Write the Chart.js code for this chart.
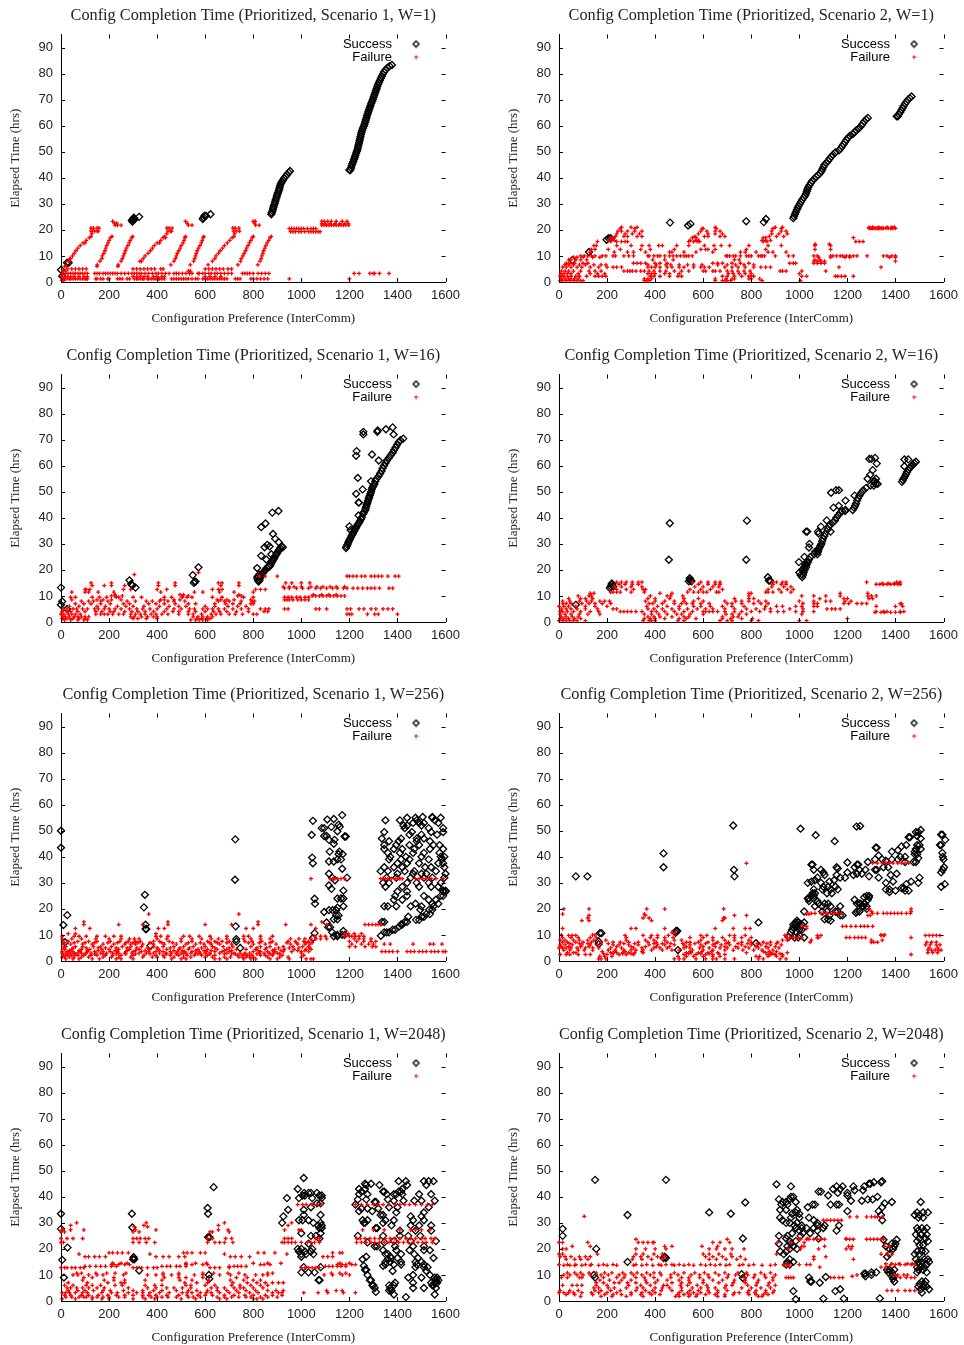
<!DOCTYPE html>
<html>
<head>
<meta charset="utf-8">
<title>Config Completion Time</title>
<script src="https://cdn.jsdelivr.net/npm/chart.js@4"></script>
<style>
html, body { margin: 0; padding: 0; background: #fff; overflow: hidden; }
canvas { position: absolute; }
</style>
</head>
<body>
<script>
// every row is [y, x, x, ...]
const okS1W1 = [[4.7,0],[2.2,5],[7.4,25,32],
[23.2,297],[23.7,295,302],[24.2,300,305],[24.7,303],[25,325],[24.2,590],[24.8,593],[25.4,597,603],[26,622],
[26,875],[26.6,877],[27.3,880],[28,882],[28.7,884],[29.4,886],[30.1,889],[30.8,891],[31.5,893],[32.2,896],[32.9,898],[33.6,900],[34.3,903],[35,906],[35.7,908],[36.4,910],[37.1,912],[37.8,915],[38.5,919],[39.2,924],[39.9,929],[40.6,935],[41.3,941],[42,947],[42.6,953],
[43,1204,1200],[43.8,1207],[44.6,1209],[45.4,1212],[46.2,1216],[47,1219],[47.8,1222],[48.6,1225],[49.4,1228],[50.2,1231],[51,1234],[51.8,1236],[52.6,1238],[53.4,1240],[54.2,1242],[55,1244],[55.8,1246],[56.6,1248],[57.4,1250],[58.2,1253],[59,1256],[59.8,1260],[60.6,1263],[61.4,1266],[62.2,1268],[63,1271],[63.8,1273],[64.6,1276],[65.4,1279],[66.2,1282],[67,1285],[67.8,1288],[68.6,1291],[69.4,1295],[70.2,1298],[71,1301],[71.8,1304],[72.6,1307],[73.4,1310],[74.2,1313],[75,1316],[75.8,1319],[76.6,1323],[77.4,1327],[78.2,1331],[79,1335],[79.8,1339],[80.6,1344],[81.4,1350],[82.2,1358],[82.9,1367],[83.3,1377]];
const failS1W1 = [[0.6,3,8,12],[1.2,5,15,25,35,40,50,60,70,80,90,100,105,110,145,150,165,175,195,200,235,245,255,275,285,305,315,320,330,340,345,360,365,375,385,395,405,410,420,430,460,470,480,490,500,510,520,530,545,560,570,590,600,610,620,630,640,650,660,670,680,690,725,735,745,790,800,815,830,845,860,950,1200],
[2.1,5,15,28,40,55,75,95,110,300,315,330,345,360,385,400,420,430,600,620,640,665],
[3.3,5,10,20,30,40,50,60,70,80,90,100,110,140,150,160,175,185,195,205,215,225,235,250,265,280,295,305,315,325,335,350,365,380,395,405,420,435,450,470,480,490,505,520,535,545,570,575,590,600,615,625,640,650,665,680,695,710,755,765,775,785,800,820,835,850,865,1220,1240,1285,1298,1305,1325,1365],
[4.2,8,20,530,538],[5,28,45,60,75,90,105,300,315,330,345,360,375,390,415,425,600,615,630,645,660,675,695,710],
[6.6,151,238,457,538,612,736,819],[6,15,22,150,237],[8,30,35,162,250,335,328,470,552,630,747,828],[9,37,40,170,255,342,476,556,640,750,833],
[10,48,172,260,350,480,560,645,757,836],[11,55,178,264,362,484,563,655,762,840],[12,62,183,268,372,490,567,662,768,843],[13,70,186,272,380,496,572,672,772,848],
[14,80,190,278,388,500,578,680,778,852],[15,92,100,196,284,400,410,508,584,692,784,858],[16,105,200,288,415,512,588,702,790,864],[17,118,206,295,425,435,516,592,712,796,870],[17.5,125,212,298,430,518,594,720,800,875],
[18.5,128,440,722],[19.5,125,130,140,150,155,445,455,460,718,730,743],[20.7,125,135,150,158,440,450,462,715,725,740],
[21.8,225,235,250,530,545,810,825],[22.6,222,232,525,805],[23.3,215,518,800,808],
[19.3,955,965,975,990,1000,1015,1030,1040,1050,1060,1070,1078],[20.5,950,960,970,980,990,1000,1010,1025,1040,1050,1060],
[21.8,1085,1095,1105,1115,1125,1135,1145,1155,1165,1175,1185,1197],[22.4,1085,1100,1120,1140,1160,1180,1195],[23.3,1085,1095,1110,1125,1145,1170,1190]];

const okS2W1 = [[8.4,55],[11.5,125],[16.2,198],[16.8,206,215],[22.8,462],[21.7,537],[22.3,547],[23.3,779],[23,852],[24.2,861],
[24.5,975],[25.2,978],[26,982],[26.8,985],[27.6,989],[28.4,993],[29.2,997],[30,1002],[30.8,1007],[31.6,1012],[32.4,1018],[33.2,1024],[34,1028],[34.8,1031],[35.6,1034],[36.4,1037],[37.2,1042],[38,1048],[38.8,1054],[39.6,1062],[40.4,1070],[41,1078],[41.7,1086],[42.5,1092],[43.3,1096],[44.1,1100],[44.9,1104],[45.7,1112],[46.5,1120],[47.3,1126],[48.1,1133],[48.9,1140],[49.7,1150],[50.5,1165],[51.3,1172],[52.1,1178],[52.9,1184],[53.7,1190],[54.5,1196],[55.3,1202],[56.1,1210],[56.8,1222],[57.5,1230],[58.3,1237],[59,1248],[60,1258],[60.8,1264],[61.6,1270],[62.4,1278],[63,1285],
[63.6,1405,1410],[64.4,1414],[65.2,1420],[66,1425],[66.8,1430],[67.6,1434],[68.4,1440],[69.2,1446],[70,1452],[70.6,1459],[71.2,1467]];
const failS2W1 = [[0.5,5,15,30,45,60,75,90,100,355,365,375,650,680,690,700,715,845,1005],[1.2,10,25,40,50,65,80,355,370,385,650,695,720,730,790,800,835],
[2.2,5,12,20,35,50,70,85,115,150,165,180,195,380,395,420,460,495,510,680,700,730,760,790,800,810,1010,1030,1150,1160,1175,1190,1225],[3.2,8,20,35,50,80,130,160,190,370,385,400,440,460,500,705,725,750,775,800,1000],
[4.2,10,25,40,60,90,125,150,175,270,285,295,305,320,340,355,375,395,420,445,480,510,540,600,610,640,650,670,700,720,745,770,795,920,930,945,1010,1110],[5.7,15,30,50,75,95,130,165,200,225,240,260,370,385,400,420,450,470,500,520,560,590,605,625,690,720,745,775,810,840,860,880,1165,1340],
[6.6,25,40,60,85,110,145,175,195,370,405,445,465,500,535,560,595,660,700,735,770,810],[7.2,30,45,65,100,120,310,325,340,360,400,420,450,640,660,680,720,755,790,960,975,985,1060,1075,1090,1105],
[8.5,40,50,70,90,115,390,440,475,730,750,1065,1085],[9.5,60,75,100,140,170,1080,1130,1190,1210],
[10,90,105,120,135,150,180,195,225,235,270,290,310,370,375,395,410,420,440,460,475,490,505,520,530,540,555,695,700,710,725,735,755,780,790,800,830,840,845,855,900,955,975,1060,1075,1130,1140,1155,1170,1180,1195,1210,1225,1240,1282,1350,1365,1385,1400],
[11.5,128,230,285,310,360,460,470,520,570,640,755,775,820,870,890,945],[12.5,135,150,205,255,340,380,480,590,610,620,650,780,860,1065,1130],[14,145,155,240,300,345,375,415,490,430,540,605,645,675,710,790,870,925,1065,1130],
[15.5,160,215,240,260,275,285,540,560,575,585,850,865,1235,1250,1265],[17,215,225,555,570,850,860,1225],[16,205,230,545,570,580,845,860,880],
[17.5,235,270,285,325,345,565,605,620,670,690,875,905,935],[18.5,240,275,305,335,580,620,650,680,885,915,950],[19.5,245,260,285,315,345,590,615,650,670,885,925,945],[20.5,255,315,595,600,655,890,925],[21,260,300,325,650,900,930],
[20.6,1290,1295,1300,1305,1310,1315,1320,1325,1330,1335,1340,1345,1350,1360,1370,1380,1385,1390,1400],[21,1290,1305,1330,1365,1385,1395],[14.5,1066,1125],[8,1060,1075,1090,1105,1400],[9.5,1375,1400]];

const okS1W16 = [[13.2,0],[7.9,5],[6.6,0],[5,25],[16,285],[14.6,292],[14,297],[13.2,310],[18,548],[21,572],[15.5,556,560],[15,553],
[15.5,822],[16,820,826],[16.8,816,828],[17.5,818,832],[18.2,824,836],[18.8,840],[19.5,846],[20,850],[20.7,816,856],[21.3,862,868],[22,872],[22.7,876],[23.4,880],[24,854,884],[24.7,888],[25.4,833,892],[26,875,896],[26.6,900],[27.2,904],[27.8,908],[28.4,912],[29,868,918],[28.7,847,923],[29.6,858],[30.6,906],[32,891],[33.8,882],[36.4,833],[37.8,851],[42,879],[42.6,905],
[28.4,1186],[29,1188],[29.7,1192],[30.4,1195],[31.1,1198],[31.8,1202],[32.5,1206],[33.2,1210],[33.9,1214],[34.6,1218],[35.3,1205,1222],[36,1226],[36.7,1200,1230],[37.4,1235],[38.1,1240],[38.8,1244],[39.5,1248],[40.2,1252],[40.9,1238],[41.6,1258],[42.3,1262],[43,1266],[43.7,1268],[44.4,1270],[45.1,1272],[45.8,1239,1275],[46.5,1277],[47.2,1280],[47.9,1282],[48.6,1285],[49.3,1288],[50,1290],[50.9,1255,1293],[51.6,1296],[52.3,1300],[53,1304],[54,1290,1308],[55,1313],[56,1322],[57,1328],[58,1334],[59,1338],[60,1344],[61,1350],[62,1356,1322],[63,1364],[64,1372],[64.3,1294],[65,1380],[66,1386],[67,1392],[68,1398],[69,1405],[69.8,1412],[70.4,1424],[72,1258,1384],[73,1258,1316],[73.5,1318],[74,1352],[74.7,1380],[65.6,1230],[63.8,1228],[55.3,1235],[49.2,1228],[45.9,1239]];
const failS1W16 = [[0.8,15,40,70,95,110,540,560,575,590,610],[1.3,5,10,25,50,75,100,300,320,355,400,565,585,605,620],[2,8,18,35,55,70,85,100,115,290,305,335,360,385,400,550,570,590,610,630],
[3,0,12,30,45,60,80,145,165,180,195,215,240,260,290,310,330,350,375,395,420,445,490,530,550,585,625,645,665,700,725,755,800,815,1190,1200,1210,1275,1305,1320,1400],
[4,5,25,40,70,100,145,170,205,220,265,295,320,350,385,430,465,490,530,560,600,635,660,690,730,780,860,845],[5,10,25,50,65,90,110,140,155,180,200,225,250,285,315,340,370,400,440,470,500,535,555,590,610,630,655,680,715,750,780,830,850,865,930,945,1060,1075,1105,1190,1205,1240,1260,1290,1310,1340,1360,1380],
[6,35,75,150,185,235,270,300,345,410,450,490,520,600,640,695,735,770],[7,60,95,125,165,205,260,285,365,395,430,475,530,560,640,685,715,745,790,800],[8,85,115,135,165,195,275,310,355,380,410,445,470,515,655,680,700,750,795,805],
[8.5,45,150,175,210,250,415,430,470,495,650,665,690,720,790,930,940,950,965,985,1000,1015,1030],[9.5,40,60,130,160,190,230,240,300,335,430,460,505,525,545,630,670,760,800,930,945,960,980,995,1015,1030],
[10,210,225,255,505,530,735,750,1045,1060,1075,1090,1105,1120,1135,1150,1165,1180],[10.5,225,495,510,740,1050,1085,1115,1145],[11.5,45,100,115,155,220,415,555,590,660,720,800],[12.5,100,105,120,260,290,400,440,630,655,670,810,830,850],
[13,1190,1215,1235,1255,1275,1290,1305,1325,1365,1380,930,950,980,1005,1030,1060,1080,1105,1130,1150,1175],[13.5,925,950,970,1000,1040,1065,1090,1120,1145,1180],[14,130,180,210,265,405,475,665,740],[15,125,210,405,475,655,670,740,935,960,1000,1035],
[17.6,825,850,900,1190,1200,1215,1230,1250,1265,1290,1305,1320,1335,1360,1390,1405],[18.2,305],[19,572]];

const okS2W16 = [[6.6,70],[14.3,219],[13,212],[13.6,226,215],[14.8,220],[16.8,544],[15.6,551,540],[16,544,548],[23.9,457,779],[37.9,461],[38.9,782],[17.2,869],[15.9,873,878],
[17.2,1012],[18,1005,1015],[19,1000,1018],[20,1012,1022],[21,1020,1028],[22,1024,1030],[23,998,1030,1036],[24,1040],[25,1021,1046],[26,1062,1075],[27,1066,1078],[27.8,1080],[28.6,1040,1084],[29.4,1088],[30,1042,1092],[31,1095],[32,1098],[33,1104],[34,1108,1080],[34.7,1028,1033,1077,1130],[35.5,1118],[36.6,1090,1122],[37.4,1128],[38.2,1140],[39,1114,1148],[40,1154],[41,1162],[42,1170],[42.6,1178,1190],[43,1222,1192],[43.9,1142,1228],[44.6,1164,1232],[45.5,1236],[46.6,1192,1240],[47.5,1244],[48.5,1230,1250],[49.6,1132,1258],[50.6,1153,1165,1266],[51.5,1278],[52.4,1296,1310],[53,1318,1326],[54,1315,1310],[55,1319,1284],[56.5,1295],[58.3,1305],[60.8,1322],[62.6,1291,1300],[63,1315],
[53.8,1427],[54.5,1431],[55.3,1435],[56,1440],[56.8,1444],[57.6,1448],[58.4,1454],[59.2,1460],[59.8,1437,1466],[60.4,1472],[61,1478],[61.5,1485],[62.4,1437,1453]];
const failS2W16 = [[0.5,0,15,30,45,60,75,110,350,375,385,400,495,520,670,700,720,800,830,1000,1030],[1.3,5,20,40,65,90,355,380,400,440,500,530,570,680,715,760,805,1200],[2,10,30,55,80,370,395,420,470,520,540,680,725,745],
[3,5,25,50,85,120,170,355,385,415,450,490,510,545,600,695,720,750,780,1010],[4,5,15,35,60,90,130,165,255,270,285,300,320,345,385,405,440,480,520,555,600,610,625,640,660,690,730,760,800,835,880,910,935,985,1015,1060,1320,1350,1365,1420,1435],[5,10,30,50,75,110,160,225,240,370,395,430,470,500,535,575,610,640,690,730,780,820,855,880,960,1015,1115,1135,1150,1170],
[6,0,20,40,70,110,150,200,365,410,450,500,560,590,630,680,720,770,860,905,930,985,1010,1060,1075,1320,1400,1430],[7.1,15,30,50,95,125,150,180,215,375,390,430,480,510,530,555,590,625,700,720,760,810,840,870,1015,1060,1075,1185,1205,1240,1260,1280],[8,15,45,85,115,135,170,190,210,360,400,440,480,520,560,600,690,735,760,790,830,860,1000,1060,1110,1130,1190,1215],
[9,40,90,110,140,370,400,460,520,580,730,790,810,1085,1185,1200,1290,1305],[10,80,125,135,380,450,465,515,790,1010,1060,1110,1170,1285,1300,1320],[11,130,145,420,470,790,800,1170,1285],[11.5,215,225,240,255,300,355,535,560,580,600,615,655,665,860,870,890,925,965],
[12.5,240,280,310,350,360,545,590,630,680,870,915,950,975],[13.5,230,260,300,345,565,600,640,665,885,935,965],[14.5,250,275,305,330,580,620,650,670,890,925,945,1320,1335,1350,1365,1380,1395,1410,1420],[15.3,240,260,280,305,330,345,555,590,620,650,670,890,905,930,945,1420,1405,1280],[14.8,1345,1370,1395,1415],[7,1420,1425],[3.7,1315,1340,1355,1380,1400,1420]];

const okS1W256 = [[50,0],[43.5,0],[13.8,10],[17.6,26],[7.2,17],[25.4,349],[20.6,345],[13.9,352],[12.3,352,355],[5.9,372],[46.7,725],[31.2,724],[13.3,727],[7.5,729],[8.4,729],[5,746],
[53.8,1048],[48.4,1043],[39.7,1045],[37.5,1048],[23.9,1055],[22,1057],[8.8,1048],[10.7,1055],[51,1085,1095],[48,1095,1105],[18.8,1095],[14.8,1105],[13,1112,1120],[11,1128],[9.5,1135,1150],[54.3,1108],[54.5,1135],[51.5,1125,1160],[52.3,1155],[49.8,1150],[56,1170],[46.5,1115,1138],[45,1135],[42,1118,1158],[38.2,1115,1135],[39,1150,1165],[41,1155,1172],[35.4,1170],[33.5,1115],[32,1128,1190],[31,1140],[29,1115],[27.7,1125],[27,1175],[24,1150,1165,1175],[21,1175],[19.5,1115,1130,1145],[20.5,1150],[17.5,1145,1155],[16,1135,1150],[10,1150,1170,1180],[11.5,1175],[47.8,1180,1185],
[9.7,1331],[11,1345,1355,1365],[12,1380,1390],[13.3,1408],[14,1415,1420],[15,1335,1345,1430,1440],[15.8,1477,1490],[17,1500,1510,1445],[18,1520,1535],[19.7,1532,1545,1495],[21,1345,1360,1395,1455,1500,1550],[22,1475,1545,1570],[23.5,1385,1420,1530,1560],[25,1390,1440,1510,1580,1590],[26.7,1400,1440,1590,1601],[27,1590,1600],
[28.5,1350,1420,1490,1540,1570],[30,1340,1365,1440,1480,1530,1580],[32,1355,1395,1455,1510,1545,1595],[33.5,1400,1465,1500,1520,1600],[34.5,1330,1360,1430,1470,1560],[36,1345,1385,1420,1515,1540,1595],[37.5,1400,1440,1490,1570,1590],[39,1365,1415,1450,1530,1585],[40,1370,1435,1500,1580,1595],[41.5,1360,1410,1465,1510,1575],[43,1345,1385,1420,1470,1535,1590],[44.5,1345,1395,1450,1490,1550,1575],[46,1365,1405,1480,1535],[47,1335,1415,1480,1510],[48.5,1450,1500,1565],[49.5,1345,1460,1540,1590],[51,1430,1530,1590],[52,1425,1440,1500],[53,1465,1490,1510,1570],[54,1350,1410,1480,1555],[55,1440,1475,1545,1580],[55.3,1505,1545]];
const failS1W256 = [[0.8,20,50,75,130,160,230,250,300,460,500,520,640,660,690,760,790,810,870,900,950,1020,1040,1050],[1.5,5,15,35,55,85,115,175,210,240,290,340,380,400,430,470,510,540,600,630,680,705,740,755,770,785,800,860,910,945,1000],
[2.2,10,25,45,70,95,125,150,185,215,250,300,345,395,425,455,490,525,555,585,610,640,735,755,775,795,830,850,880,920,1010],[3,5,20,40,55,70,85,105,125,145,165,190,215,240,265,295,325,355,385,410,435,460,480,500,520,540,560,580,600,620,660,690,720,745,765,785,825,845,865,885,900,1000],
[3.6,5,25,50,80,110,140,175,205,235,270,300,335,365,395,425,455,485,515,545,575,605,640,670,700,800,830,860,890,925,960,1000,1030,1335,1350,1365,1380,1400,1440,1455,1470,1490,1505,1520,1540,1555,1570,1590,1600],[4.5,15,45,85,120,170,200,240,285,325,370,405,440,490,530,570,610,650,690,730,770,810,850,890,930,970,1020,1040],
[5.5,20,60,90,135,165,210,255,290,335,385,425,470,510,550,600,630,675,715,790,830,870,925,965,1005,1030,1200,1225,1265,1295,1310],[6.5,8,40,90,130,175,220,265,290,310,340,385,430,480,520,560,595,625,660,710,800,850,895,955,985,1015,1035,1210,1250,1280,1300,1345,1370,1465,1535,1550,1585],[7.5,30,70,115,150,205,245,280,310,330,385,410,450,500,545,610,640,670,700,765,795,835,880,945,975,1010,1030,1200,1230,1260,1290,1310],
[8.5,5,45,85,145,200,250,285,305,325,400,440,500,545,585,625,655,690,760,790,830,870,955,990,1015,1040,1060,1080,1105,1220,1240,1260,1290],[9.5,5,55,75,105,150,185,220,250,395,415,445,510,535,575,620,690,760,780,830,880,1055,1080,1100,1180,1200,1210,1225,1240,1260],
[10.5,30,60,395,1180,1195,1220,1250],[12.5,60,120,405,430,800,770,1060],[14,95,240,340,445,600,710,820,935,1040,1105],[14,1265,1280,1295,1310,1320,1330],[15,95,445,820,1085],[18,365,740],[31.6,1040,1120,1130,1140,1150,1165,1180,1330,1340,1350,1360,1375,1390,1400,1410,1420,1475,1490,1505,1520,1540,1560,1590],
[2.7,30,60,100,140,175,230,270,310,370,440,480,510,570,620,680,710,725,765,815,870,910],[4,35,75,110,155,225,275,310,350,410,470,505,560,595,625,680,710,820,880,915,985,1015],[5,10,50,105,155,185,230,275,315,360,400,455,495,535,585,640,700,815,855,905,950,990,1035],[7,15,55,100,140,195,235,270,300,320,370,420,465,530,580,620,650,690,780,825,870,940,980,1020,1045]];

const okS2W256 = [[32.5,70,118],[10.7,170,177],[6.5,165],[7.5,165],[41.3,435],[36,435],[11.5,487,492],[10.8,485],[4.2,495],[52,725],[35,728],[32.5,730],[14.8,830],[6.8,820],
[9.2,955],[11,965,990],[12,970,1000,1010],[13,975,985,1000],[14,975,985,1010],[14.8,985,995,1020],[15.5,990],[9,980,995,1020],[10,1000],[19,1020],[50.8,1005],[48.3,1068],[46,1147],[51.6,1238],[51.8,1253],
[24,1035,1060,1040],[25,1050,1060],[23,1040,1075],[26,1055,1065,1115,1135],[27.5,1060,1095,1130,1160],[21,1065,1095,1130,1170],[22,1080,1105,1120,1250,1270],[30,1035,1090],[30.5,1050,1125],[31,1065,1145],[32,1075,1170,1190],[33,1105,1155,1225],[35,1060,1090],[37,1050,1055],[35.5,1160],[36,1155],[34,1100,1200],[28.5,1100,1120,1150],[19,1095,1115,1150,1160],[17.5,1125,1170,1180],[16,1105,1120],[15.5,1130],[37.8,1200],[36,1230],[37,1240,1245],[33.5,1240,1260],[35,1250,1275],[38,1285],
[23.5,1230,1285],[22,1240,1255,1270],[19,1240,1250],[18.5,1235],[24.5,1270,1290],[25,1290,1280],[21,1265,1280,1265],[20,1280],[32.5,1290],[43.5,1318,1322],[39,1315,1345],[35,1315,1322],[32,1330],[40.5,1330],[36,1350,1370],[38.5,1360],[30,1360],[27.5,1360,1375],[26.5,1375],[33,1380],[30.5,1390],[27,1400],[33.5,1405],[39,1385,1410],[42,1385],[44,1425],[42.5,1410],[40,1420,1440],[44.5,1445],[38,1440],[28,1425,1435],[29.5,1445],[27,1440,1455],[30.5,1465],[47.5,1455,1460],[48,1490],[44.5,1500,1490],[43,1485,1505],[42,1480],[41,1480,1490],[38,1475,1485],[39.5,1495],[49.5,1485,1495],[50.3,1505],[47,1505],[32,1500],[30,1495],
[48.5,1590,1595],[46.5,1607],[44.5,1585,1590],[41.5,1595],[40,1597],[39,1600],[36,1602],[34,1590],[35,1597],[29.5,1605],[28.5,1590]];
const failS2W256 = [[0.8,165,175,195,480,500,520,570,610,640,655,690,730,830,850,920,945],[1.8,170,190,220,495,530,560,600,640,670,820,835,870,905,930],[2.5,5,30,45,80,110,130,200,250,280,310,520,570,610,640,690,870,880,900,930,1465],
[3.2,35,60,70,215,240,265,290,315,350,530,550,580,620,660,780,860,880,950,1535,1555,1575],[4.2,20,45,80,105,140,205,235,270,300,320,350,385,430,470,500,555,600,640,690,725,765,810,845,890,1535,1550,1565,1580,1590],[5,0,15,30,50,75,110,140,165,215,260,310,345,395,420,450,520,545,585,625,670,700,745,790,830,870,915,1540,1575],
[6.2,5,25,55,95,130,160,225,250,290,330,375,410,440,480,520,545,590,640,675,710,760,800,840,880,925,1525,1545,1570,1585],[7.2,15,35,70,100,135,175,225,255,290,330,370,405,450,530,545,580,620,660,705,760,800,850,880,910,1045,1300,1310,1325,1530,1550,1570],[8,5,25,60,85,120,145,195,280,360,395,440,480,510,590,640,690,730,790,930,950,1050,1300,1345],
[9,15,50,80,130,155,280,380,410,440,475,545,600,640,680,730,760,800,950,960,975,985,995,1010,1075,1080,1195,1210,1230,1245,1260,1275,1465],[9.8,40,55,70,275,350,385,410,455,590,615,710,730,775,940,945,1075,1090,1340,1350,1525,1540,1555,1570,1585],
[10,10,140,150,1340,1355],[11,470,485],[12.5,15,300,320,440,650,725,775,795,1030],[13.3,1180,1195,1215,1235,1255,1270,1285,1305,1010,1030],[15.5,95,125,385,680],[16.5,120,350,375,685,690],[17.5,125,360,730,780,1295,1285],[18,15,355,1030,1040],[18.3,1050,1065,1090,1100,1115,1130,1145,1160,1175,1305,1325,1350,1365,1380,1395,1410,1425,1445,1462],[19,1465,1300],[20,20,125,365,440,685,1290,1465],[37.6,1305,1325,1345,1360,1375,1390,1410,1425,1440,1455],[37.5,780],
[2.8,185,225,265,300,540,590,625,665,890,920],[3.6,180,230,275,345,545,595,635,850,875,905],[5.5,10,40,90,125,240,300,360,405,460,530,600,650,690,735,775,820,860,900],[6.7,45,85,120,205,270,315,395,430,465,515,565,610,650,695,745,785,825,865,905]];

const okS1W2048 = [[33.5,0],[27.7,0],[15.8,5],[9,12],[20.5,27],[33.5,295],[28.2,297],[16,300,305],[16.8,302],[11.7,325],[35.7,610],[33.5,612],[24.5,612,618],[10,615],[8.5,617],[43.7,635],
[47.2,1010],[43,985],[41.5,1012,1030,1040,1065],[40.5,1005,1015,1075,1085],[39.5,940,990,1045,1085],[37.5,1065,1080],[36,1040],[35,945,1010],[33,1010,1080],[32.5,925],[31,990,1005,1030],[30,920,1050,1080],[29,1070,1085],[28,1075,1085],[26,1000,1080],[25,1060,1040],[24,1075],[22,1030],[20,985,1045,1000],[19,990,1015,1040],[18,1000,1020,1050],[17,1000],[13,1010,1080],[11,1000,1030,1055],[8,1072,1076],
[45,1290,1265],[44.5,1270,1325],[43,1240,1265],[42,1250,1340,1345],[41,1240,1275,1355,1395],[39,1235,1270,1360],[38,1305,1310],[37,1225],[35.5,1250,1275,1320],[34.5,1240,1295],[33,1330,1340],[31,1255,1275,1350],[30,1260,1265,1340],[28,1310,1315],[25,1235,1340],[22.5,1275,1345],[21,1305,1315],[19.5,1340],[18,1350],[17,1270,1370],[16,1255,1360],[15,1350],[13.5,1260,1340],[12,1265,1270],[10,1275],[8,1285,1290],[6,1295,1300],[5,1305],[3.5,1310],[42,1405,1415],[46,1405,1435,1510,1530,1550],[44.5,1440,1520],[43,1420],[41,1385,1420,1490,1540],[38.5,1385,1425,1470,1500,1555],[36,1365,1400,1530],[34,1395,1510],[32.5,1455,1500],[31,1385,1465,1510],[29,1375,1455,1490,1540],[27,1410,1475,1540],[25,1410,1445,1495],[23,1385,1455,1560],[21,1390,1465,1510],[19.5,1395,1450,1510,1535],[18,1360,1415,1470],[16.5,1375,1400,1485,1550],[15,1370,1415,1475,1500],[14,1350,1385,1415,1480,1510],[13,1475,1510,1525],[11.5,1380,1520],[10,1465,1535],[9,1445,1500],[7,1390,1465,1540],[6,1365,1385,1545,1550],[5,1370,1465,1510,1560],[4,1365,1375],[2.5,1385,1555],[1.5,1435],[9,1555,1565],[8,1560,1570],[7,1555,1565]];
const failS1W2048 = [[0.8,5,60,130,170,200,300,350,390,500,560,660,690,800,815,840],[1.5,20,45,75,95,105,130,150,175,200,240,265,340,375,400,420,445,480,530,550,580,650,680,710,740,770,790,830,860,900],[2.2,15,40,85,115,155,195,230,265,300,340,365,395,440,490,525,570,600,630,680,720,765,800,850,880,920],
[3.2,5,20,35,60,90,110,170,210,235,280,315,340,370,410,450,505,525,545,580,605,625,660,700,740,785,820,880,905,920,1010,1070,1110,1175,1225],[4,30,70,100,135,175,205,260,300,340,385,420,480,530,565,610,650,690,730,770,810,860,895,925,1105,1145,1170],[5,25,40,65,90,115,150,180,280,360,395,440,470,505,540,625,650,680,720,745,760,800,840],
[6,15,50,105,130,165,225,255,350,390,420,520,540,600,640,710,745,790,830,860],[7,30,110,195,250,265,515,565,610,715,775,815,850,880,905,925],[8,90,180,220,265,350,420,495,545,615,705,760,800,830],[9,95,130,220,430,490,520,590,730,775],[10,50,70,115,150,175,260,360,395,425,460,490,555,590,660,705,765,810,840,860,1095,1130,1170,1200],
[10.7,65,85,145,190,225,270,425,490,590,635,695,740,860,880,1125,1160,1185],[12.8,0,15,25,45,60,80,95,300,315,335,360,385,400,620,640,660,700,1000,1015,1030,1045,1060,1075],[13.3,100,120,145,165,185,210,230,420,440,455,480,495,520,700,720,735,750,770,1100,1115,1130,1150,1165,1185],[14,210,220,240,265,285,520,545,590,610,830,845,870,1150,1170,1185,1210,1225],[14.5,215,250,275,520,560,605,800,860,915,1160,1200],
[17,100,115,140,160,185,395,425,450,490,515,705,725,750,785,1090,1110,1130],[18.5,200,215,235,255,280,510,525,545,580,600,820,845,890,1130,1160,1170],[18,75,370,680,940],[22.5,920,930,945,960,975,1000,1025,1040,1055,1075,1230,1250,1270,1290,1305,1325,1345,1365,1385,1405,1425,1445,1465,1485,1505,1520,1545],[22.5,0,10,300,325,355,390,610,640,660,680,715],
[24,0,25,50,90,300,315,330,350,365,610,630,685,710,930,945,960,1060,1075,1230,1245,1265,1285,1305,1325,1350,1370,1390,1410,1435,1455,1475,1500,1515,1540,1555],[26.5,0,15,300,325,620,630,700],[27.3,5,40,95,310,395,655,695,930,990,1000,1255,1300,1345,1410,1455,1475,1500,1535],[29,40,345,655,945],[30,65,355,680,960],[28.5,305,360],[37,985,1005,1020,1045,1065,1085,1225,1250,1275,1300,1320,1340,1365,1390,1410,1430,1450,1475,1500,1525,1545]];

const okS2W2048 = [[27.7,15],[25,15],[46.5,150],[10,145],[9,150],[20,155],[33,285],[15,285],[16.5,435,445],[17,440],[46.5,445],[34,625],[33.5,715],[24,765],[10.3,760],[8.8,765],[37.8,775],
[44.8,905],[44,965],[39,915],[40,975,965],[39,960],[38,930,985,945],[37,925,950],[35,920,945,990],[33.5,970,1000],[36,1035],[37,1055,1065],[34,985],[32,920,965,1000,1040],[31,930,1060],[30,945,960,990,1075],[29,980,1010,1075,1105,1165],[28,985,1010,1030,1060,1100],[27,1000,1075,1155],[26,970,1045,1015],[25,915,950,1005],[24,945,1080],[23,960,985],[22,915,965],[21,950,975],[20,960,990],[19,920,945],[18,935],[16,960],[15,950,975],[14,945,960],[9,1040],[7.5,1045,1050],[7,1085],[9.2,1110],[3.8,975,1150],[4.5,1170],[0.7,985],[0.9,1100,1185],[1,1335],[42,1080,1090],[41.5,1160,1200],[40.5,1120,1200],[43,1140,1170],[44,1155,1180,1225],[42.5,1230,1265],[44,1270],[45,1290,1295],[45.6,1310,1340],[46,1345],[38.5,1215,1260],[39,1285,1305],[40,1325],[37,1130,1155,1165],[34.5,1200],[33,1340],[34.5,1330],[36,1345],[37.5,1355],[38,1385],[31,1345],[10.5,1270,1275],[9.5,1275],[11,1300,1320],[10,1300],
[23.5,1350,1405],[22,1385,1400],[21,1360,1395],[20,1375,1390],[18,1375],[17,1365],[12,1365,1375,1395],[11,1370,1385],[9.5,1385,1395],[8.5,1390],[7.5,1395],
[38,1505],[34,1490,1515,1535],[33,1480,1500],[32,1495,1515],[28,1490,1510,1530],[27,1495,1520],[25.5,1485,1505,1530],[24,1500,1525],[23,1490,1535],[21.5,1500,1515],[19,1490,1510,1525],[18,1480,1500],[16,1485,1520,1535],[15,1495,1510,1540],[14,1500,1530],[13,1490,1505,1520],[12,1495,1515],[11,1490,1530],[7.5,1510,1525],[6.5,1500,1520],[5.5,1495,1515,1530],[4.5,1505,1540],[3.2,1510]];
const failS2W2048 = [[1.8,90,175,220,280,350,485,500,540,570,660,690,830,845],[2.5,30,65,140,190,225,260,300,340,385,420,495,520,545,575,610,650,690,725,790,820,850,870],[3.2,0,20,40,60,95,135,165,200,240,300,345,375,400,500,535,560,590,625,660,730,750,785,815,860,890],
[4,5,45,80,150,175,215,255,320,360,390,425,470,510,545,580,620,660,700,790,820,860,895,1365,1385,1410,1440,1460,1480],[5,145,165,205,230,280,325,350,400,430,460,510,555,590,620,650,690,760,800,840,880],[6,15,55,75,95,155,200,290,340,380,435,450,505,535,575,615,695,720,785,820,870,900],[7,155,185,230,250,285,320,365,400,470,510,545,600,665,725,775,825,875],
[8,170,210,260,300,360,410,450,500,540,600,640,680,730,775,830,890],[9,10,35,85,95,185,240,270,320,355,395,465,510,540,585,625,700,770,810,860,890,945,955,965,975,1130,1145,1165,1180,1420,1445,1465,1480],[10,20,45,75,100,130,175,205,250,275,310,345,380,425,465,495,550,585,620,665,705,735,785,815,855,900,1395,1410,1435,1450],
[10.8,35,65,90,125,155,190,220,265,300,325,365,395,420,480,520,565,605,650,690,745,780,840,880],[13,1340,1360],[13.7,20,45,65,95,130,165,200,240,310,345,390,425,480,520,560,610,650,695,750,790,845,880,935],[14,0,35,70,110,135,185,225,320,365,415,445,470,500,540,590,630,670,710,765,810,900,945,955,1000,1030,1045,1380,1400,1420,1440,1465,1480],[14.3,1360,1385,1415,1450,1470],
[16,30,65,90,120,305,345,385,430,625,655,695,740,775],[17,5,25,50,85,110,130,310,340,370,410,440,610,640,680,720,755],[18,0,15,160,320,350,395,430,600,625,665,715,905,1365,1385],[20,15,30,320,360,400,445,625,655,690,720,770,955,1005,1080,1195,1215],[21,55,130,440,470,595,660,1010,1020,1105,1205,1220,1355,1375],[22.5,0,15,120,330,350,370,390,395,640,670,710,910,965,1020],[23.7,320,700,1005,1030,1040,1060,1075,1090,1105,1195,1210,1225,1280,1295,1310,1325,1340,1350],[24,995,1035,1195],
[32.5,105],[32.3,1210,1240,1280,1300,1315,1325,1345],[31,1100,1115,1130,1145,1160,1175],[18,1340],[17,1110,1060],[16,1060,1225],[13,960,1085],[9.5,1220],[10,1240]];

const titles = [
  "Config Completion Time (Prioritized, Scenario 1, W=1)", "Config Completion Time (Prioritized, Scenario 2, W=1)",
  "Config Completion Time (Prioritized, Scenario 1, W=16)", "Config Completion Time (Prioritized, Scenario 2, W=16)",
  "Config Completion Time (Prioritized, Scenario 1, W=256)", "Config Completion Time (Prioritized, Scenario 2, W=256)",
  "Config Completion Time (Prioritized, Scenario 1, W=2048)", "Config Completion Time (Prioritized, Scenario 2, W=2048)"
];
const okSeries = [okS1W1, okS2W1, okS1W16, okS2W16, okS1W256, okS2W256, okS1W2048, okS2W2048];
const failSeries = [failS1W1, failS2W1, failS1W16, failS2W16, failS1W256, failS2W256, failS1W2048, failS2W2048];
const xTicks = [0, 200, 400, 600, 800, 1000, 1200, 1400, 1600];
const yTicks = [0, 10, 20, 30, 40, 50, 60, 70, 80, 90];

const rowsToPoints = (rows) => rows.flatMap(([y, ...xs]) => xs.map((x) => ({ x, y })));

// legend keys are small canvases, the built-in ones cannot differ in size
function makeIcon(size, draw) {
    const icon = document.createElement('canvas');
    icon.width = size;
    icon.height = size;
    draw(icon.getContext('2d'), size / 2);
    return icon;
}
const successIcon = makeIcon(9, (c, m) => {
    c.strokeStyle = '#000';
    c.lineWidth = 1.3;
    c.beginPath();
    c.moveTo(m - 3, m); c.lineTo(m, m - 3); c.lineTo(m + 3, m); c.lineTo(m, m + 3);
    c.closePath();
    c.stroke();
});
const failureIcon = makeIcon(5, (c, m) => {
    c.strokeStyle = '#f00';
    c.beginPath();
    c.moveTo(m - 2, m); c.lineTo(m + 2, m); c.moveTo(m, m - 2); c.lineTo(m, m + 2);
    c.stroke();
});

// gnuplot style: small inward tick marks on all four sides, no top or right border
const inwardTicks = {
    id: 'inwardTicks',
    afterLayout(chart) {
        const area = chart.chartArea;
        Object.assign(chart.legend, { left: area.left, right: area.right - 12, width: area.width - 12, top: area.top + 3, bottom: area.bottom });
    },
    afterDatasetsDraw(chart) {
        const { ctx, chartArea: area, scales } = chart;
        ctx.save();
        ctx.strokeStyle = '#000';
        ctx.lineWidth = 1;
        ctx.beginPath();
        scales.x.ticks.forEach((t) => {
            const px = Math.round(scales.x.getPixelForValue(t.value)) + 0.5;
            ctx.moveTo(px, area.top); ctx.lineTo(px, area.top + 4);
            ctx.moveTo(px, area.bottom); ctx.lineTo(px, area.bottom - 4);
        });
        scales.y.ticks.forEach((t) => {
            const py = Math.round(scales.y.getPixelForValue(t.value)) + 0.5;
            ctx.moveTo(area.left, py); ctx.lineTo(area.left + 4, py);
            ctx.moveTo(area.right, py); ctx.lineTo(area.right - 4, py);
        });
        ctx.stroke();
        ctx.restore();
    }
};

const tickFont = { family: '"Liberation Sans"', size: 13 };
const labelFont = { family: '"Liberation Serif"', size: 13 };

titles.forEach((title, i) => {
    const canvas = document.createElement('canvas');
    canvas.width = 466;
    canvas.height = 330;
    canvas.style.left = (i % 2 ? 498 : 0) + 'px';
    canvas.style.top = [0, 340, 679, 1019][Math.floor(i / 2)] + 'px';
    document.body.appendChild(canvas);

    new Chart(canvas, {
        type: 'scatter',
        data: {
            datasets: [
                { label: 'Success', data: rowsToPoints(okSeries[i]), order: 2, clip: false,
                  pointStyle: 'rectRot', radius: 3.5, borderColor: '#000', borderWidth: 1.3, backgroundColor: 'transparent' },
                { label: 'Failure', data: rowsToPoints(failSeries[i]), order: 1, clip: false,
                  pointStyle: 'cross', radius: 2, borderColor: '#f00', borderWidth: 1.3 }
            ]
        },
        options: {
            responsive: false,
            animation: false,
            devicePixelRatio: 1,
            events: [],
            layout: { padding: { right: 20 } },
            scales: {
                x: {
                    type: 'linear', min: 0, max: 1600,
                    afterFit: (s) => { s.height = 48; },
                    afterBuildTicks: (s) => { s.ticks = xTicks.map((value) => ({ value })); },
                    grid: { drawOnChartArea: false, drawTicks: false },
                    border: { color: '#000' },
                    ticks: { maxRotation: 0, autoSkip: false, padding: 6, color: '#222', font: tickFont, callback: (v) => String(v) },
                    title: { display: true, text: 'Configuration Preference (InterComm)', color: '#222', font: labelFont, padding: { top: 10 } }
                },
                y: {
                    type: 'linear', min: 0, max: 95,
                    afterFit: (s) => { s.width = 61; },
                    afterBuildTicks: (s) => { s.ticks = yTicks.map((value) => ({ value })); },
                    grid: { drawOnChartArea: false, drawTicks: false },
                    border: { color: '#000' },
                    ticks: { autoSkip: false, padding: 8, color: '#222', font: tickFont, callback: (v) => String(v) },
                    title: { display: true, text: 'Elapsed Time (hrs)', color: '#222', font: labelFont, padding: { top: 8 } }
                }
            },
            plugins: {
                tooltip: { enabled: false },
                title: {
                    display: true, text: title, fullSize: false, color: '#222',
                    font: { family: '"Liberation Serif"', size: 16.27, weight: 'normal' },
                    padding: { top: 6, bottom: 9 }
                },
                legend: {
                    position: 'chartArea',
                    align: 'start',
                    rtl: true,
                    textDirection: 'rtl',
                    labels: {
                        usePointStyle: true, pointStyleWidth: 35, padding: 0, color: '#222', font: tickFont,
                        generateLabels: () => [
                            { text: 'Success', pointStyle: successIcon, datasetIndex: 0 },
                            { text: 'Failure', pointStyle: failureIcon, datasetIndex: 1 }
                        ]
                    }
                }
            }
        },
        plugins: [inwardTicks]
    });
});
</script>
</body>
</html>
